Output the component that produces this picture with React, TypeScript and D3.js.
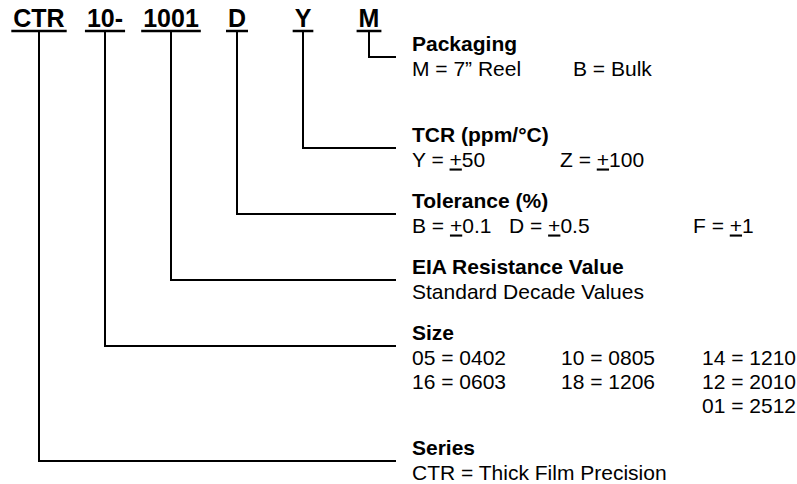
import React, { useEffect, useRef } from 'react';
import * as d3 from 'd3';

const W = 797;
const H = 484;

// Part number segments, left to right
const codes = ['CTR', '10-', '1001', 'D', 'Y', 'M'];

// Field descriptions, top to bottom (each linked to a code)
const fieldCodes = ['M', 'Y', 'D', '1001', '10-', 'CTR'];
const fieldTitles = ['Packaging', 'TCR (ppm/°C)', 'Tolerance (%)', 'EIA Resistance Value', 'Size', 'Series'];

const packagingRows = [['M = 7” Reel', 'B = Bulk']];
const tcrRows = [['Y = ±50', 'Z = ±100']];
const toleranceRows = [['B = ±0.1', 'D = ±0.5', 'F = ±1']];
const resistanceRows = [['Standard Decade Values']];
const sizeRows = [
  ['05 = 0402', '10 = 0805', '14 = 1210'],
  ['16 = 0603', '18 = 1206', '12 = 2010'],
  ['', '', '01 = 2512'],
];
const seriesRows = [['CTR = Thick Film Precision']];

const fieldRows = [packagingRows, tcrRows, toleranceRows, resistanceRows, sizeRows, seriesRows];

// layout (kept apart from the data)
const FONT = '"Liberation Sans", Arial, Helvetica, sans-serif';
const colOffsets = [[0, 161], [0, 148], [0, 97, 281], [0], [0, 149, 290], [0]];
const extraRows = [1, 0, 0, 0, 0, 0];
const codeBaseline = 27;
const underlineY = 31;
const lineEndX = 396;
const textX = 412;
const firstLineY = 57;
const blockBase = 66;
const blockRowStep = 24.5;
const textRowStep = 24;

export default function App() {
  const ref = useRef<SVGSVGElement | null>(null);

  useEffect(() => {
    const svg = d3.select(ref.current);
    svg.selectAll('*').remove();

    const x = d3.scalePoint<string>().domain(codes).range([39, 369]);

    // y positions for field connector lines, computed from row counts
    const ys: number[] = [];
    let acc = firstLineY;
    fieldRows.forEach((rows, i) => {
      ys.push(acc);
      acc += blockBase + (rows.length - 1 + extraRows[i]) * blockRowStep;
    });

    const g = svg.append('g');

    // codes
    const codeG = g.append('g');
    codes.forEach((c) => {
      const t = codeG
        .append('text')
        .attr('x', x(c)!)
        .attr('y', codeBaseline)
        .attr('text-anchor', 'middle')
        .attr('font-family', FONT)
        .attr('font-weight', 'bold')
        .attr('font-size', 25)
        .attr('fill', '#000')
        .text(c);
      const w = (t.node() as SVGTextElement).getComputedTextLength();
      codeG
        .append('line')
        .attr('x1', x(c)! - w / 2 - 2)
        .attr('x2', x(c)! + w / 2 + 2)
        .attr('y1', underlineY)
        .attr('y2', underlineY)
        .attr('stroke', '#000')
        .attr('stroke-width', 2.5);
    });

    // connectors
    fieldCodes.forEach((c, i) => {
      const p = d3.path();
      p.moveTo(Math.round(x(c)!), underlineY);
      p.lineTo(Math.round(x(c)!), Math.round(ys[i]));
      p.lineTo(lineEndX, Math.round(ys[i]));
      g.append('path')
        .attr('d', p.toString())
        .attr('fill', 'none')
        .attr('stroke', '#000')
        .attr('stroke-width', 2)
        .attr('shape-rendering', 'crispEdges');
    });

    // field texts
    fieldTitles.forEach((title, i) => {
      g.append('text')
        .attr('x', textX)
        .attr('y', ys[i] - 6)
        .attr('font-family', FONT)
        .attr('font-weight', 'bold')
        .attr('font-size', 21)
        .attr('fill', '#000')
        .text(title);
      fieldRows[i].forEach((row, r) => {
        row.forEach((cell, ci) => {
          if (!cell) return;
          const t = g
            .append('text')
            .attr('x', textX + colOffsets[i][ci])
            .attr('y', ys[i] + 19 + r * textRowStep)
            .attr('font-family', FONT)
            .attr('font-size', 21)
            .attr('fill', '#000');
          const parts = cell.split('±');
          parts.forEach((part, pi) => {
            if (pi > 0) {
              t.append('tspan').style('text-decoration', 'underline').text('+');
            }
            if (part) t.append('tspan').text(part);
          });
        });
      });
    });
  }, []);

  return (
    <svg
      ref={ref}
      width={W}
      height={H}
      viewBox={`0 0 ${W} ${H}`}
      style={{ position: 'absolute', left: 0, top: 0, background: '#fff' }}
    />
  );
}
